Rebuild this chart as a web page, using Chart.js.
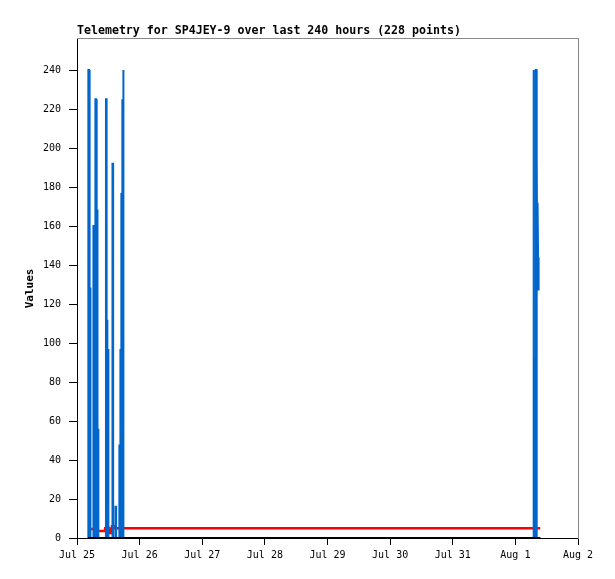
<!DOCTYPE html>
<html>
<head>
<meta charset="utf-8">
<script src="https://cdn.jsdelivr.net/npm/chart.js@4/dist/chart.umd.min.js"></script>
<style>
  body { margin: 0; background: #fff; }
</style>
</head>
<body>
<canvas id="myChart" width="615" height="579"></canvas>
<script>
// hours since Jul 25 00:00
const xTickLabels = ['Jul 25', 'Jul 26', 'Jul 27', 'Jul 28', 'Jul 29', 'Jul 30', 'Jul 31', 'Aug 1', 'Aug 2'];

const blueHours = [
  4.35, 4.35, 4.60, 4.60,
  4.95, 4.95, 5.15, 5.15,
  6.30, 6.30, 6.55, 6.55,
  7.05, 7.05, 7.30, 7.30,
  7.65, 7.65, 7.85, 7.85,
  8.05, 8.05, 8.25, 8.25,
  11.10, 11.10, 11.35, 11.35,
  11.50, 11.50, 11.70, 11.70,
  11.90, 11.90, 12.10, 12.10,
  13.60, 13.60, 13.85, 13.85,
  14.75, 14.75, 15.00, 15.00,
  16.10, 16.10, 16.30, 16.30,
  16.50, 16.50, 16.70, 16.70,
  16.90, 16.90, 17.05, 17.05,
  17.25, 17.25, 17.45, 17.45,
  17.65, 17.65, 17.85, 17.85,
  174.85, 174.85, 175.10, 175.10,
  175.40, 175.40, 175.60, 175.60,
  175.90, 175.90, 176.10, 176.10,
  176.25, 176.35, 176.50, 176.70, 176.90
];
const blueValues = [
  0, 240, 240, 0,
  0, 128, 128, 0,
  0, 160, 160, 0,
  0, 225, 225, 0,
  0, 168, 168, 0,
  0, 56, 56, 0,
  0, 225, 225, 0,
  0, 112, 112, 0,
  0, 97, 97, 0,
  0, 192, 192, 0,
  0, 16, 16, 0,
  0, 48, 48, 0,
  0, 97, 97, 0,
  0, 177, 177, 0,
  0, 225, 225, 0,
  0, 240, 240, 0,
  0, 240, 240, 0,
  0, 92, 92, 0,
  0, 240, 240, 0,
  196, 144, 172, 144, 127
];

const redHours = [5.0, 7.5, 7.5, 10.7, 10.8, 12.4, 12.5, 13.2, 13.4, 14.2, 14.3, 177.5];
const redValues = [4.6, 4.6, 3.6, 3.6, 5, 5, 2.6, 2.6, 6, 6, 5, 5];

const blackHours = [4.2, 177.6];
const blackValues = [0, 0];

function toPoints(xs, ys) {
  return xs.map((x, i) => ({ x: x, y: ys[i] }));
}

function myLoadFunction()
{
Chart.defaults.font.family = "'DejaVu Sans Mono', 'Liberation Mono', monospace";
Chart.defaults.color = '#000';
const ctx = document.getElementById('myChart').getContext('2d');
const myChart = new Chart(ctx, {
    type: 'line',
    data: {
        datasets: [{
            label: 'zero',
            data: toPoints(blackHours, blackValues),
            borderColor: '#000',
            borderWidth: 2
        }, {
            label: 'values',
            data: toPoints(blueHours, blueValues),
            borderColor: '#0066cc',
            borderWidth: 2
        }, {
            label: 'level',
            data: toPoints(redHours, redValues),
            borderColor: '#ff0000',
            borderWidth: 2.5
        }]
    },
    options: {
        responsive: false,
        animation: false,
        parsing: false,
        elements: {
            point: { radius: 0 },
            line: { tension: 0 }
        },
        layout: { padding: { left: 0, right: 37, top: 0, bottom: 0 } },
        plugins: {
            legend: { display: false },
            tooltip: { enabled: false },
            title: {
                display: true,
                text: 'Telemetry for SP4JEY-9 over last 240 hours (228 points)',
                align: 'start',
                fullSize: false,
                color: '#000',
                font: { size: 11.6, weight: 'bold' },
                padding: { top: 24, bottom: 1 }
            }
        },
        scales: {
            x: {
                type: 'linear',
                min: 0,
                max: 192,
                grid: { drawOnChartArea: false, tickLength: 7, color: '#000' },
                border: { color: '#000', width: 1 },
                ticks: {
                    stepSize: 24,
                    padding: 4,
                    maxRotation: 0,
                    color: '#000',
                    font: { size: 10 },
                    callback: (v) => xTickLabels[Math.round(v / 24)]
                },
                afterFit: (scale) => { scale.height = 41; }
            },
            y: {
                min: 0,
                max: 256,
                grid: { drawOnChartArea: false, tickLength: 8, color: '#000' },
                border: { color: '#000', width: 1 },
                ticks: {
                    stepSize: 20,
                    includeBounds: false,
                    padding: 8,
                    color: '#000',
                    font: { size: 10 }
                },
                title: {
                    display: true,
                    text: 'Values',
                    color: '#000',
                    font: { size: 11, weight: 'bold' },
                    padding: { top: 24, bottom: 0 }
                },
                afterFit: (scale) => { scale.width = 77; }
            },
            xTop: {
                type: 'linear',
                position: 'top',
                min: 0,
                max: 192,
                grid: { display: false, drawTicks: false },
                border: { color: '#888', width: 1 },
                ticks: { display: false },
                afterFit: (scale) => { scale.height = 0; }
            },
            yRight: {
                type: 'linear',
                position: 'right',
                min: 0,
                max: 256,
                grid: { display: false, drawTicks: false },
                border: { color: '#888', width: 1 },
                ticks: { display: false },
                afterFit: (scale) => { scale.width = 0; }
            }
        }
    }
});
}
document.addEventListener('DOMContentLoaded', myLoadFunction);
</script>
</body>
</html>
